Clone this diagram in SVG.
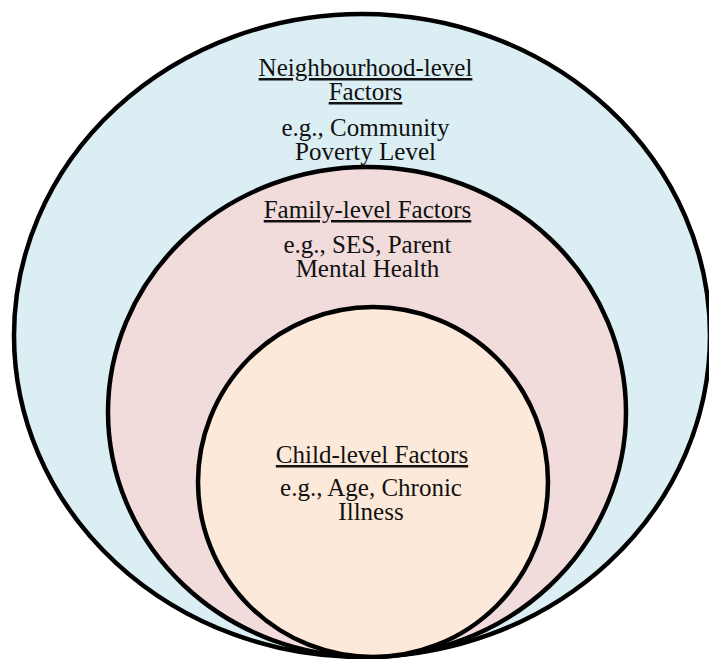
<svg xmlns="http://www.w3.org/2000/svg" width="709" height="659" viewBox="0 0 709 659">
<style>
.ring{stroke:#000;stroke-width:4.5}
.t{font-family:"Liberation Serif","Times New Roman",serif;font-size:25px;fill:#111;text-anchor:middle}
.u{text-decoration:underline;text-decoration-thickness:1.5px;text-underline-offset:3px}
</style>
<rect width="709" height="659" fill="#fff"/>
<g id="neighbourhood">
<ellipse class="ring" cx="362" cy="335.5" rx="348" ry="321.5" fill="#DAEEF3"/>
<text class="t u" x="365.5" y="76">Neighbourhood-level</text>
<text class="t u" x="365.5" y="100">Factors</text>
<text class="t" x="365.5" y="136">e.g., Community</text>
<text class="t" x="365.5" y="160">Poverty Level</text>
</g>
<g id="family">
<ellipse class="ring" cx="367" cy="412" rx="259" ry="245" fill="#F2DCDB"/>
<text class="t u" x="367.5" y="218">Family-level Factors</text>
<text class="t" x="367.5" y="253">e.g., SES, Parent</text>
<text class="t" x="367.5" y="277">Mental Health</text>
</g>
<g id="child">
<ellipse class="ring" cx="373" cy="482" rx="175" ry="175" fill="#FDE9D9"/>
<text class="t u" x="372" y="463">Child-level Factors</text>
<text class="t" x="371" y="496">e.g., Age, Chronic</text>
<text class="t" x="371" y="520">Illness</text>
</g>
<g id="connectors"/>
</svg>
